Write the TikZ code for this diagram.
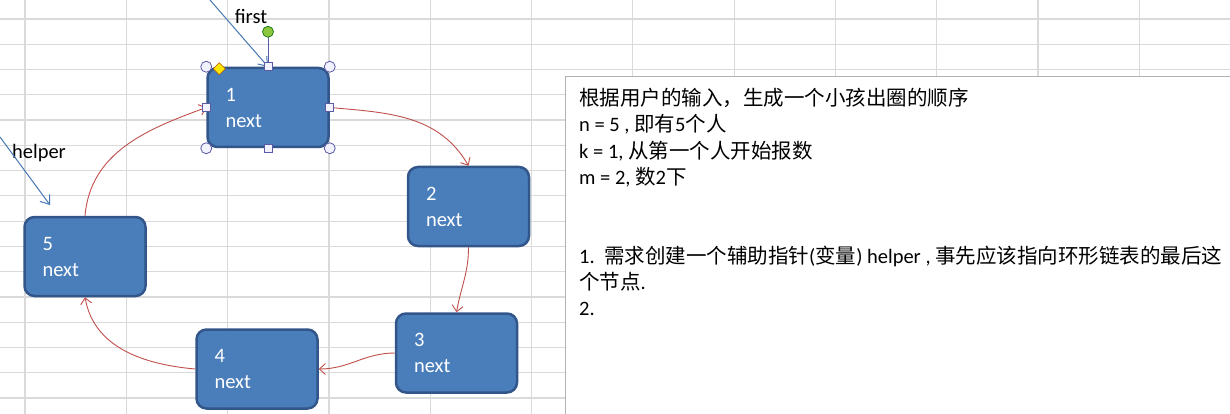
\documentclass[tikz,border=0pt]{standalone}
\usepackage{fontspec}
\setmainfont{Carlito}
\newfontfamily\cjk{Noto Sans CJK SC}
\usetikzlibrary{arrows.meta, positioning}
\definecolor{boxblue}{RGB}{74,126,187}
\definecolor{boxedge}{RGB}{50,86,138}
\definecolor{linkred}{RGB}{192,80,77}
\definecolor{ptrblue}{RGB}{70,120,180}
\definecolor{gridgray}{RGB}{218,218,218}
\definecolor{handlegreen}{RGB}{140,198,63}

\begin{document}
\begin{tikzpicture}[
  x=1pt, y=1pt,
  kidbox/.style={draw=boxedge, line width=2.5pt, fill=boxblue, rounded corners=10pt, text width=85pt, inner xsep=18pt, inner ysep=0pt, minimum height=79pt, align=left, text=white, font=\fontsize{20.5}{26}\selectfont},
  link/.style={draw=linkred, line width=0.9pt, -{Straight Barb[length=6pt,width=11pt]}},
  ptr/.style={draw=ptrblue, line width=1pt, -{Straight Barb[length=8pt,width=12pt]}},
  ptrlabel/.style={font=\fontsize{20.5}{24}\selectfont, inner sep=0pt},
  gridline/.style={draw=gridgray, line width=1.2pt},
  handle/.style={draw=gray!70!blue, line width=0.8pt, fill=blue!5}
]
  \clip (0,0) rectangle (1230,-414);
  \fill[white] (0,0) rectangle (1230,-414);

  % sheet grid
  \foreach \gx in {0,...,11}
    \draw[gridline] ({25+101.3*\gx},0) -- ++(0,-414);
  \foreach \gy in {0,...,15}
    \draw[gridline] (0,{-19-25.27*\gy}) -- ++(1230,0);

  % text box
  \draw[draw=gray!60, line width=1pt, fill=white] (565,-77) rectangle (1240,-420);
  \node[anchor=north west, inner sep=0pt, align=left, font=\fontsize{20.5}{26.3}\selectfont] (note) at (579,-88) {
    {\cjk 根据用户的输入，生成一个小孩出圈的顺序}\\
    n = 5 , {\cjk 即有}5{\cjk 个人}\\
    k = 1, {\cjk 从第一个人开始报数}\\
    m = 2, {\cjk 数}2{\cjk 下}\\
    \mbox{}\\
    \mbox{}\\
    1.\ \ {\cjk 需求创建一个辅助指针}({\cjk 变量}) helper , {\cjk 事先应该指向环形链表的最后这}\\
    {\cjk 个节点}.\\
    2.
  };

  % children
  \node[kidbox] (n1) at (268,-107.5) {1\\next};
  \node[kidbox] (n2) at (468.5,-206.5) {2\\next};
  \node[kidbox] (n3) at (456.5,-353) {3\\next};
  \node[kidbox] (n4) at (257,-369) {4\\next};
  \node[kidbox] (n5) at (85,-256.5) {5\\next};

  % next links
  \draw[link] (n1.east) to[out=-5, in=120] (n2.north);
  \draw[link] (n2.south) to[out=-90, in=80] (n3.north);
  \draw[link] (n3.west) to[out=180, in=0] (n4.east);
  \draw[link] (n4.west) to[out=175, in=-80] (n5.south);
  \draw[link] (n5.north) to[out=85, in=200] (n1.west);

  % pointers
  \node[ptrlabel] (firstlbl) at (251,-16) {first};
  \node[ptrlabel] (helperlbl) at (39,-153) {helper};
  \coordinate (firstTail) at (210,0);
  \coordinate (helperTail) at (0,-137);
  \coordinate (helperHead) at (50,-205);
  \draw[ptr] (firstTail) -- (n1.north);
  \draw[ptr] (helperTail) -- (helperHead);

  % selection handles of n1
  \draw[draw=gray!70!blue, line width=0.8pt] (n1.north) -- ++(0,30);
  \draw[fill=handlegreen, draw=green!40!black, line width=0.6pt] ([yshift=35pt]n1.north) circle (5.5);
  \foreach \a in {north west, north east, south west, south east}
    \draw[handle] (n1.\a) circle (5.5);
  \foreach \a in {north, south, east, west}
    \draw[handle] ([shift={(-4,-4)}]n1.\a) rectangle ++(8,8);
  \draw[fill=yellow!90!orange, draw=orange!70!black, line width=0.5pt] ([xshift=13pt,yshift=-2pt]n1.north west) +(0,6) -- +(6,0) -- +(0,-6) -- +(-6,0) -- cycle;
\end{tikzpicture}
\end{document}
